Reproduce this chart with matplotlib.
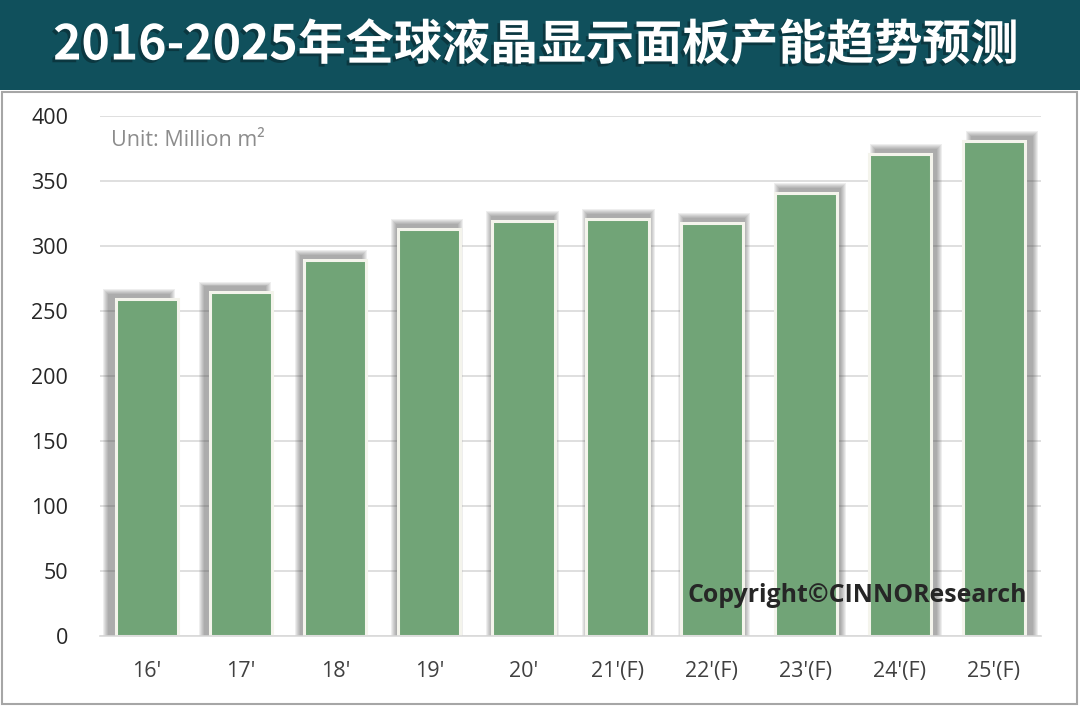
import matplotlib
matplotlib.use("Agg")
import matplotlib.pyplot as plt
import matplotlib.patheffects as pe
from matplotlib.patches import Rectangle

years = ["16'", "17'", "18'", "19'", "20'", "21'(F)", "22'(F)", "23'(F)", "24'(F)", "25'(F)"]
capacity = [259, 265, 289, 313, 319, 321, 318, 341, 371, 381]
yticks = [0, 50, 100, 150, 200, 250, 300, 350, 400]

title = "2016-2025年全球液晶显示面板产能趋势预测"
unit_label = "Unit: Million m²"
copyright_label = "Copyright©CINNOResearch"

plt.rcParams['font.family'] = ['Open Sans', 'DejaVu Sans']

W, H = 1080, 706
fig = plt.figure(figsize=(W / 100, H / 100), dpi=100)

# title bar
fig.patches.append(Rectangle((0, 1 - 90 / H), 1, 90 / H, transform=fig.transFigure,
                             facecolor="#10505c", edgecolor="none", zorder=0))
# frame around chart area
fig.patches.append(Rectangle((2 / W, 2 / H), (W - 5) / W, (H - 92 - 2) / H, transform=fig.transFigure,
                             facecolor="white", edgecolor="#a6a6a6", linewidth=1.5, zorder=0))

fig.text(0.496, 1 - 45 / H, title, ha="center", va="center", color="white", fontsize=34.6,
         fontweight="bold", family=["Noto Sans CJK SC", "DejaVu Sans"],
         path_effects=[pe.withSimplePatchShadow(offset=(-2, -2), shadow_rgbFace="black", alpha=0.3)])

# axes: x from 100 to 1041 px, y from 116 (400) to 636 (0)
ax = fig.add_axes([100 / W, 1 - 636 / H, 941 / W, 520 / H], zorder=2)
ax.set_facecolor("none")
x = list(range(len(years)))
bar_w = 0.66
px_x = 1 / 94.1   # data units per pixel, x
px_y = 400 / 520  # data units per pixel, y

# soft perspective shadow behind each bar
for i, v in zip(x, capacity):
    shift = (i - 4.5) * 1.8 * px_x
    for k in range(6):
        grow = (5 - k) * px_x
        ax.bar(i + shift, v + (5 + (5 - k)) * px_y, width=bar_w + 2 * grow,
               color="#404040", alpha=0.085, linewidth=0, zorder=2)

ax.bar(x, capacity, width=bar_w, color="#71a477", edgecolor="#f4f4ec", linewidth=2.2, zorder=3)

ax.set_xlim(-0.5, len(years) - 0.5)
ax.set_ylim(0, 400)
ax.set_yticks(yticks)
ax.set_xticks(x)
ax.set_xticklabels(years)
ax.grid(axis="y", color="#d9d9d9", linewidth=1.2, zorder=0)
for s in ["top", "right", "left"]:
    ax.spines[s].set_visible(False)
ax.spines["bottom"].set_color("#d9d9d9")
ax.spines["bottom"].set_linewidth(1.2)
ax.spines["bottom"].set_zorder(4)
ax.tick_params(axis="both", length=0, labelsize=15.5, labelcolor="#262626")
ax.tick_params(axis="x", pad=18, labelcolor="#404040")
ax.tick_params(axis="y", pad=23)

fig.text(111 / W, 1 - 140 / H, unit_label, ha="left", va="center", color="#8c8c8c", fontsize=15.5,
         zorder=10)
fig.text(1027 / W, 1 - 596 / H, copyright_label, ha="right", va="center", color="#262626",
         fontsize=17.9, fontweight="bold", zorder=10)

fig.savefig("out.png", dpi=100)
